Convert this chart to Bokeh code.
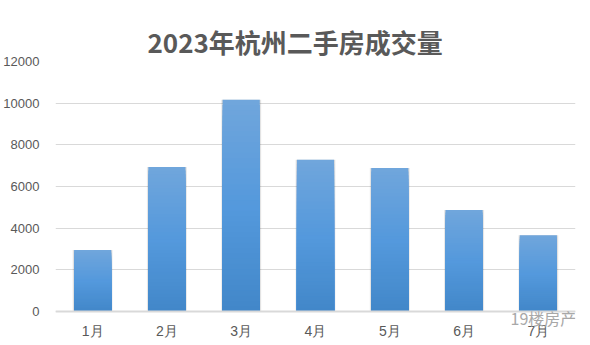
from bokeh.plotting import figure
from bokeh.models import FactorRange, Title, Label
from bokeh.embed import file_html
from bokeh.resources import INLINE

months = ["1月", "2月", "3月", "4月", "5月", "6月", "7月"]
volumes = [2950, 6940, 10170, 7280, 6890, 4870, 3660]
y_ticks = [0, 2000, 4000, 6000, 8000, 10000, 12000]
title_text = "2023年杭州二手房成交量"
watermark = "19楼房产"

p = figure(width=590, height=345, x_range=FactorRange(*months, range_padding=0),
           y_range=(-1632, 12000), output_backend="svg", toolbar_location=None,
           title=None, min_border_left=55, min_border_right=15, min_border_top=61,
           min_border_bottom=0)
p.background_fill_color = "white"
p.border_fill_color = "white"
p.outline_line_color = None

main_title = Title(text=title_text, align="left", offset=92, standoff=0,
                   vertical_align="top", text_line_height=0.7,
                   text_font="Noto Sans CJK SC", text_font_size="26px",
                   text_font_style="bold", text_color="#595959")
p.add_layout(main_title, "above")

# soft shadow
p.vbar(x=months, top=volumes, width=0.54, fill_color="#000000", fill_alpha=0.07, line_color=None)
p.vbar(x=months, top=volumes, width=0.52, fill_color="#000000", fill_alpha=0.08, line_color=None)

# gradient bars via stacked slices
N = 40
top_rgb = (112, 166, 220)
mid_rgb = (84, 153, 221)
bot_rgb = (66, 135, 200)
for i in range(N):
    f = 1 - i / N
    if f > 0.5:
        t = (f - 0.5) / 0.5
        c = tuple(int(mid_rgb[k] + (top_rgb[k] - mid_rgb[k]) * t) for k in range(3))
    else:
        t = f / 0.5
        c = tuple(int(bot_rgb[k] + (mid_rgb[k] - bot_rgb[k]) * t) for k in range(3))
    tops = [v * f for v in volumes]
    p.vbar(x=months, top=tops, width=0.5, fill_color="#%02x%02x%02x" % c, line_color=None)

p.yaxis.ticker = y_ticks
p.yaxis.axis_line_color = None
p.yaxis.major_tick_line_color = None
p.yaxis.minor_tick_line_color = None
p.yaxis.major_label_text_font = "Liberation Sans"
p.yaxis.major_label_text_font_size = "13px"
p.yaxis.major_label_text_color = "#595959"
p.yaxis.major_label_standoff = 10

p.xaxis.fixed_location = 0
p.xaxis.axis_line_color = "#d9d9d9"
p.xaxis.axis_line_width = 2
p.xaxis.major_tick_line_color = None
p.xaxis.minor_tick_line_color = None
p.xaxis.major_label_text_font = "Liberation Sans"
p.xaxis.major_label_text_font_size = "14px"
p.xaxis.major_label_text_color = "#595959"
p.xaxis.major_label_standoff = 5

p.xgrid.grid_line_color = None
p.ygrid.grid_line_color = "#d9d9d9"
p.ygrid.grid_line_width = 1

p.add_layout(Label(x=455, y=-290, x_units="screen", y_units="data",
                   text=watermark, text_align="left",
                   text_baseline="middle", text_font="Noto Sans CJK SC",
                   text_font_size="16px", text_color="#a8a8a8"))

open("out.html", "w").write(file_html(p, INLINE))
